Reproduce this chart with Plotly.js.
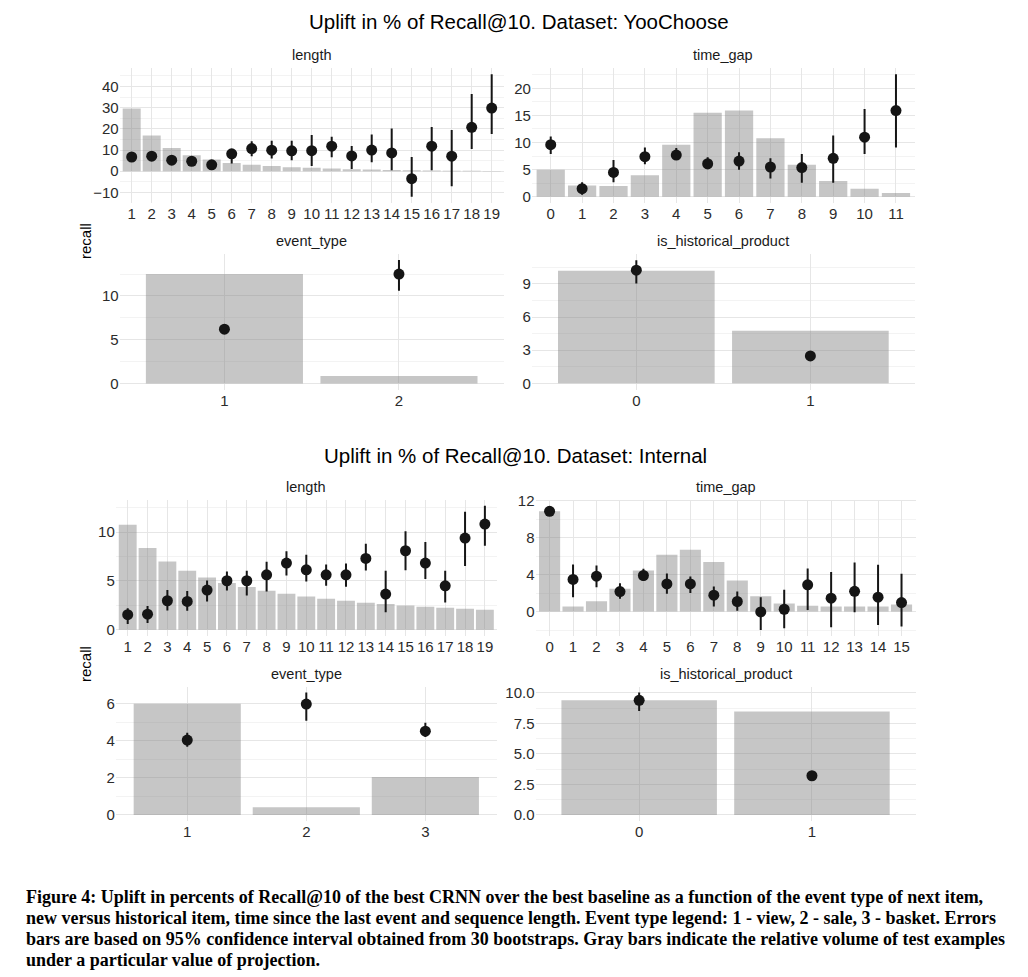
<!DOCTYPE html>
<html>
<head>
<meta charset="utf-8">
<script src="https://cdn.plot.ly/plotly-3.0.1.min.js"></script>
<style>html,body{margin:0;padding:0;background:#fff;}</style>
</head>
<body>
<div id="chart" style="width:1028px;height:977px;"></div>
<script>
// ---------- DATA ----------
// YooChoose: length
const ycLenCats   = [1,2,3,4,5,6,7,8,9,10,11,12,13,14,15,16,17,18,19];
const ycLenVolume = [29.6,16.8,11.0,7.5,5.5,3.9,3.1,2.4,1.9,1.6,1.3,0.9,0.8,0.6,0.4,0.3,0.25,0.2,0.15];
const ycLenUplift = [6.7,7.1,5.2,4.7,3.0,8.2,10.7,9.9,9.6,9.7,11.8,7.2,10.0,8.6,-3.5,11.8,7.1,20.7,29.8];
const ycLenLow    = [5.5,6.0,4.2,3.7,2.0,3.6,7.1,6.0,5.2,2.4,6.6,1.1,4.2,0.5,-12.1,0.5,-7.1,10.5,17.6];
const ycLenHigh   = [7.9,8.2,6.2,5.7,4.0,10.5,14.1,14.4,14.4,17.1,16.3,11.9,17.3,20.1,6.7,20.9,19.5,36.4,45.8];

// YooChoose: time_gap
const ycGapCats   = [0,1,2,3,4,5,6,7,8,9,10,11];
const ycGapVolume = [5.0,2.1,2.0,4.0,9.6,15.5,15.9,10.8,5.9,2.9,1.5,0.7];
const ycGapUplift = [9.6,1.5,4.5,7.4,7.7,6.1,6.6,5.5,5.4,7.1,11.0,15.9];
const ycGapLow    = [7.9,0.4,2.7,6.0,6.9,5.1,5.0,3.4,2.6,2.6,7.9,9.1];
const ycGapHigh   = [11.1,2.7,6.8,9.1,9.0,7.3,8.2,7.1,7.9,11.3,16.2,22.6];

// YooChoose: event_type
const ycEvtCats   = [1,2];
const ycEvtVolume = [12.5,0.84];
const ycEvtUplift = [6.2,12.5];
const ycEvtLow    = [5.8,10.6];
const ycEvtHigh   = [6.6,14.1];

// YooChoose: is_historical_product
const ycHistCats   = [0,1];
const ycHistVolume = [10.2,4.76];
const ycHistUplift = [10.24,2.48];
const ycHistLow    = [9.03,2.3];
const ycHistHigh   = [11.15,2.66];

// Internal: length
const inLenCats   = [1,2,3,4,5,6,7,8,9,10,11,12,13,14,15,16,17,18,19];
const inLenVolume = [10.75,8.36,7.0,6.04,5.36,4.78,4.37,3.99,3.69,3.41,3.17,2.97,2.76,2.63,2.49,2.35,2.25,2.15,2.05];
const inLenUplift = [1.54,1.6,2.97,2.9,4.06,5.02,5.02,5.63,6.83,6.14,5.63,5.63,7.3,3.65,8.09,6.83,4.5,9.39,10.82];
const inLenLow    = [0.58,0.68,1.98,1.95,2.9,4.03,3.5,3.92,5.56,4.95,4.5,4.4,6.07,1.8,6.1,5.19,2.8,6.52,8.6];
const inLenHigh   = [2.2,2.42,4.06,3.96,5.05,5.97,6.04,6.96,8.05,7.68,6.69,6.79,8.8,6.04,10.1,9.0,6.04,12.08,12.7];

// Internal: time_gap
const inGapCats   = [0,1,2,3,4,5,6,7,8,9,10,11,12,13,14,15];
const inGapVolume = [10.87,0.54,1.12,2.46,4.46,6.16,6.7,5.36,3.37,1.67,0.87,0.62,0.54,0.54,0.54,0.76];
const inGapUplift = [10.87,3.48,3.84,2.17,3.91,3.0,3.0,1.78,1.09,-0.04,0.25,2.9,1.45,2.2,1.56,0.98];
const inGapLow    = [10.5,1.56,2.64,1.38,3.3,1.92,2.0,0.54,0.1,-2.0,-1.8,0.18,-1.7,-0.07,-1.45,-1.63];
const inGapHigh   = [11.2,5.1,5.0,3.08,4.64,4.13,3.8,2.72,2.17,1.56,2.36,4.67,4.28,5.33,5.07,4.1];

// Internal: event_type
const inEvtCats   = [1,2,3];
const inEvtVolume = [6.0,0.41,2.05];
const inEvtUplift = [4.04,5.98,4.52];
const inEvtLow    = [3.68,5.08,4.2];
const inEvtHigh   = [4.43,6.6,4.97];

// Internal: is_historical_product
const inHistCats   = [0,1];
const inHistVolume = [9.4,8.49];
const inHistUplift = [9.4,3.21];
const inHistLow    = [8.52,3.1];
const inHistHigh   = [10.03,3.32];

const titleYC  = "Uplift in % of Recall@10. Dataset: YooChoose";
const titleIn  = "Uplift in % of Recall@10. Dataset: Internal";
const captionLines = [
  "Figure 4: Uplift in percents of Recall@10 of the best CRNN over the best baseline as a function of the event type of next item,",
  "new versus historical item, time since the last event and sequence length. Event type legend: 1 - view, 2 - sale, 3 - basket. Errors",
  "bars are based on 95% confidence interval obtained from 30 bootstraps. Gray bars indicate the relative volume of test examples",
  "under a particular value of projection."
];

// ---------- LAYOUT HELPERS ----------
const W = 1028, H = 977;
const px = v => v / W;
const py = v => 1 - v / H;

const panels = [
  {name:"length", cats:ycLenCats, vol:ycLenVolume, up:ycLenUplift, lo:ycLenLow, hi:ycLenHigh,
   xd:[119.7,503.7], yd:[68,203], xr:[0.4,19.6], yr:[-15,48.7], dt:10, fmt:""},
  {name:"time_gap", cats:ycGapCats, vol:ycGapVolume, up:ycGapUplift, lo:ycGapLow, hi:ycGapHigh,
   xd:[531.9,914.8], yd:[68,203], xr:[-0.6,11.6], yr:[-1.13,23.73], dt:5, fmt:""},
  {name:"event_type", cats:ycEvtCats, vol:ycEvtVolume, up:ycEvtUplift, lo:ycEvtLow, hi:ycEvtHigh,
   xd:[119.7,503.7], yd:[254,389.5], xr:[0.4,2.6], yr:[-0.7,14.8], dt:5, fmt:""},
  {name:"is_historical_product", cats:ycHistCats, vol:ycHistVolume, up:ycHistUplift, lo:ycHistLow, hi:ycHistHigh,
   xd:[531.9,914.8], yd:[254,389.5], xr:[-0.6,1.6], yr:[-0.56,11.71], dt:3, fmt:""},
  {name:"length", cats:inLenCats, vol:inLenVolume, up:inLenUplift, lo:inLenLow, hi:inLenHigh,
   xd:[115.8,496.8], yd:[499.5,636], xr:[0.4,19.6], yr:[-0.64,13.34], dt:5, fmt:""},
  {name:"time_gap", cats:inGapCats, vol:inGapVolume, up:inGapUplift, lo:inGapLow, hi:inGapHigh,
   xd:[535.5,915.6], yd:[499.5,636], xr:[-0.6,15.6], yr:[-2.65,12.15], dt:4, fmt:""},
  {name:"event_type", cats:inEvtCats, vol:inEvtVolume, up:inEvtUplift, lo:inEvtLow, hi:inEvtHigh,
   xd:[115.8,496.8], yd:[686.5,821], xr:[0.4,3.6], yr:[-0.33,6.93], dt:2, fmt:""},
  {name:"is_historical_product", cats:inHistCats, vol:inHistVolume, up:inHistUplift, lo:inHistLow, hi:inHistHigh,
   xd:[535.5,915.6], yd:[686.5,821], xr:[-0.6,1.6], yr:[-0.5,10.53], dt:2.5, fmt:".1f"}
];

const tickFont = {family:"Liberation Sans, Arial, sans-serif", size:15, color:"#2b2b2b"};
const traces = [];
const layout = {
  width: W, height: H, autosize:false,
  margin:{l:0,r:0,t:0,b:0,pad:0},
  paper_bgcolor:"#ffffff", plot_bgcolor:"rgba(0,0,0,0)",
  showlegend:false, bargap:0.1,
  annotations: []
};

panels.forEach((p, i) => {
  const n = i + 1;
  const xa = "x" + (n === 1 ? "" : n), ya = "y" + (n === 1 ? "" : n);
  const xk = "xaxis" + (n === 1 ? "" : n), yk = "yaxis" + (n === 1 ? "" : n);
  traces.push({
    type:"bar", x:p.cats, y:p.vol, xaxis:xa, yaxis:ya, width:0.9,
    marker:{color:"rgba(128,128,128,0.45)", line:{width:0}},
    hoverinfo:"skip"
  });
  traces.push({
    type:"scatter", mode:"markers", x:p.cats, y:p.up, xaxis:xa, yaxis:ya,
    marker:{color:"#151515", size:11},
    error_y:{type:"data", symmetric:false,
      array:p.hi.map((h, k) => h - p.up[k]),
      arrayminus:p.lo.map((l, k) => p.up[k] - l),
      width:0, thickness:2, color:"#151515"}
  });
  layout[xk] = {
    domain:[px(p.xd[0]), px(p.xd[1])], anchor:ya, range:p.xr,
    tickmode:"array", tickvals:p.cats, ticktext:p.cats.map(String),
    showgrid:true, gridcolor:"#e6e6e6", gridwidth:1,
    zeroline:false, showline:false, ticks:"", tickfont:tickFont, fixedrange:true
  };
  layout[yk] = {
    domain:[py(p.yd[1]), py(p.yd[0])], anchor:xa, range:p.yr,
    tickmode:"linear", tick0:0, dtick:p.dt, tickformat:p.fmt,
    showgrid:true, gridcolor:"#e6e6e6", gridwidth:1,
    minor:{dtick:p.dt/2, tick0:0, showgrid:true, gridcolor:"#f3f3f3", gridwidth:1, ticks:""},
    zeroline:false, showline:false, ticks:"", tickfont:tickFont, fixedrange:true
  };
  layout.annotations.push({
    text:p.name, xref:"paper", yref:"paper",
    x:px((p.xd[0] + p.xd[1]) / 2), y:py(p.yd[0] - 13),
    xanchor:"center", yanchor:"middle", showarrow:false,
    font:{family:"Liberation Sans, Arial, sans-serif", size:14.5, color:"#1a1a1a"}
  });
});

// Section titles
layout.annotations.push({text:titleYC, xref:"paper", yref:"paper", x:px(518.5), y:py(22),
  xanchor:"center", yanchor:"middle", showarrow:false,
  font:{family:"Liberation Sans, Arial, sans-serif", size:20.5, color:"#000"}});
layout.annotations.push({text:titleIn, xref:"paper", yref:"paper", x:px(515.5), y:py(455),
  xanchor:"center", yanchor:"middle", showarrow:false,
  font:{family:"Liberation Sans, Arial, sans-serif", size:20.5, color:"#000"}});

// y-axis titles
[241, 664].forEach(yy => layout.annotations.push({
  text:"recall", xref:"paper", yref:"paper", x:px(85), y:py(yy),
  xanchor:"center", yanchor:"middle", textangle:-90, showarrow:false,
  font:{family:"Liberation Sans, Arial, sans-serif", size:15, color:"#000"}
}));

// Caption
const capY = [897, 918, 939, 960];
captionLines.forEach((t, k) => layout.annotations.push({
  text:"<b>" + t + "</b>", xref:"paper", yref:"paper", x:px(24), y:py(capY[k]),
  xanchor:"left", yanchor:"middle", showarrow:false,
  font:{family:"Liberation Serif, Times New Roman, serif", size:18, color:"#000"}
}));

Plotly.newPlot("chart", traces, layout, {staticPlot:true, displayModeBar:false});
</script>
</body>
</html>
